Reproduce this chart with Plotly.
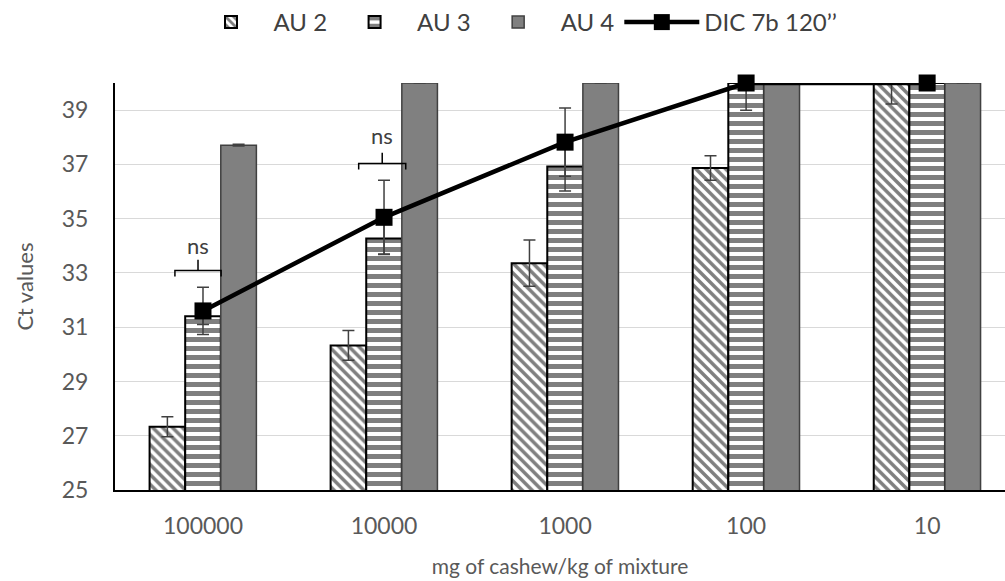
import plotly.graph_objects as go

categories = ["100000", "10000", "1000", "100", "10"]
au2 = [27.33, 30.33, 33.36, 36.87, 40.0]
au2_err = [0.37, 0.55, 0.85, 0.45, 0.77]
au3 = [31.40, 34.27, 36.92, 40.0, 40.0]
au3_err = [0.3, 0.57, 0.9, 0.0, 0.0]
au4 = [37.71, 40.0, 40.0, 40.0, 40.0]
au4_err = [0.03, 0.0, 0.0, 0.0, 0.0]
dic = [31.60, 35.05, 37.82, 40.0, 40.0]
dic_err = [0.87, 1.37, 1.26, 1.0, 0.0]
yticks = [25, 27, 29, 31, 33, 35, 37, 39]

# "ns" brackets: (x_left, x_right, y, label_y) in category-index / value units
ns_brackets = [(-0.155, 0.10, 33.09, 34.0), (0.86, 1.12, 37.03, 38.05)]

FONT = "Lato"
GRAY = "#595959"
ERRC = "#404040"

fig = go.Figure()
fig.add_trace(go.Bar(
    name="AU 2", x=categories, y=au2,
    marker=dict(color="white", line=dict(color="black", width=2),
                pattern=dict(shape="\\", fgcolor="black", bgcolor="white",
                             size=7, solidity=0.5)),
    error_y=dict(type="data", array=au2_err, color=ERRC, thickness=1.5, width=6),
))
fig.add_trace(go.Bar(
    name="AU 3", x=categories, y=au3,
    marker=dict(color="white", line=dict(color="black", width=2),
                pattern=dict(shape="-", fgcolor="black", bgcolor="white",
                             size=9, solidity=0.55)),
    error_y=dict(type="data", array=au3_err, color=ERRC, thickness=1.5, width=6),
))
fig.add_trace(go.Bar(
    name="AU 4", x=categories, y=au4,
    marker=dict(color="#808080", line=dict(color="#404040", width=1.5)),
    error_y=dict(type="data", array=au4_err, color=ERRC, thickness=1.5, width=6),
))
fig.add_trace(go.Scatter(
    name="DIC 7b 120’’", x=categories, y=dic, mode="lines+markers",
    line=dict(color="black", width=4.5),
    marker=dict(symbol="square", size=17, color="black"),
    error_y=dict(type="data", array=dic_err, color=ERRC, thickness=1.5, width=6),
    cliponaxis=False,
))

for xl, xr, yb, yl in ns_brackets:
    xm = (xl + xr) / 2
    fig.add_shape(type="path",
                  path=f"M {xl},{yb-0.22} L {xl},{yb} L {xr},{yb} L {xr},{yb-0.22}",
                  xref="x", yref="y", line=dict(color="black", width=1.5))
    fig.add_shape(type="line", x0=xm, x1=xm, y0=yb, y1=yb + 0.4,
                  xref="x", yref="y", line=dict(color="black", width=1.5))
    fig.add_annotation(x=xm, y=yl, text="ns", showarrow=False, xref="x", yref="y",
                       font=dict(family=FONT, size=22, color="#404040"))

fig.update_layout(
    width=1005, height=581,
    margin=dict(l=115, r=0, t=83, b=91),
    paper_bgcolor="white", plot_bgcolor="white",
    barmode="group", bargap=0.41, bargroupgap=0,
    font=dict(family=FONT, size=20, color=GRAY),
    showlegend=True,
    legend=dict(orientation="h", x=0.45, xanchor="center", y=1.15, yanchor="middle",
                font=dict(family=FONT, size=24, color="#404040"), traceorder="normal",
                itemwidth=75),
    xaxis=dict(type="category", range=[-0.486, 4.43], showline=True, linecolor="black",
               linewidth=2, ticks="", tickfont=dict(size=23, color=GRAY),
               ticklabelstandoff=14,
               title=dict(text="mg of cashew/kg of mixture", font=dict(size=21, color=GRAY),
                          standoff=22)),
    yaxis=dict(range=[25, 40], tickvals=yticks, showline=True, linecolor="black",
               linewidth=2, showgrid=True, gridcolor="#d9d9d9", gridwidth=1,
               zeroline=False, ticks="", tickfont=dict(size=23, color=GRAY),
               ticklabelstandoff=20,
               title=dict(text="Ct values", font=dict(size=22, color=GRAY), standoff=22)),
)

fig.write_html("out.html", post_script="document.body.style.margin='0';",
               config={"displayModeBar": False})
